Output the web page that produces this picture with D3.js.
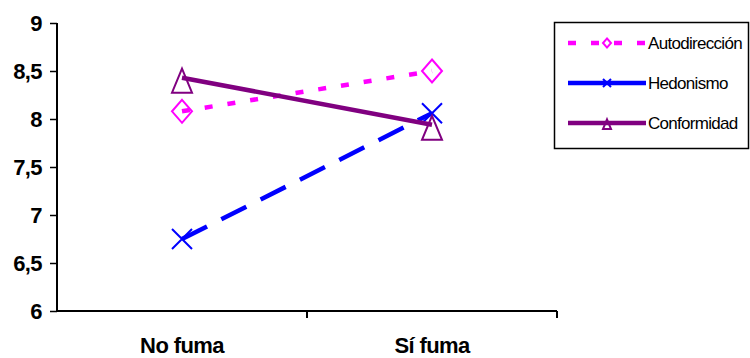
<!DOCTYPE html>
<html lang="es">
<head>
<meta charset="UTF-8">
<title>Fuma</title>
<script src="https://d3js.org/d3.v7.min.js"></script>
<style>
  body { margin: 0; background: #fff; }
  svg { display: block; font-family: "Liberation Sans", Arial, sans-serif; }
  .tick-lbl { font-weight: bold; font-size: 22px; letter-spacing: -0.6px; }
  .leg-lbl { font-size: 17px; letter-spacing: -0.7px; }
</style>
</head>
<body>
<svg width="750" height="358"></svg>
<script>
// data
var categories = ["No fuma", "Sí fuma"];
var autodireccion = [8.08, 8.5];
var hedonismo = [6.75, 8.06];
var conformidad = [8.43, 7.94];
var yTicks = [6, 6.5, 7, 7.5, 8, 8.5, 9];

var series = [
  { name: "Autodirección", values: autodireccion, color: "#ff00ff", dash: "8,15", marker: "diamond" },
  { name: "Hedonismo", values: hedonismo, color: "#0000ff", dash: "28,16", marker: "cross" },
  { name: "Conformidad", values: conformidad, color: "#800080", dash: null, marker: "triangle" }
];

var svg = d3.select("svg");

var x = d3.scaleBand().domain(categories).range([57, 557]);
var y = d3.scaleLinear().domain([6, 9]).range([311, 23]);

// y axis
var yAxis = svg.append("g").attr("transform", "translate(57,0)")
  .call(d3.axisLeft(y).tickValues(yTicks).tickSize(7).tickPadding(8)
    .tickFormat(d => String(d).replace(".", ",")));
yAxis.select(".domain").attr("stroke", "#000").attr("stroke-width", 2).attr("d", "M0,23V312");
yAxis.selectAll(".tick line").attr("stroke-width", 1.5);
yAxis.selectAll(".tick text").attr("class", "tick-lbl").attr("fill", "#000")
  .style("font-family", "Liberation Sans, Arial, sans-serif");

// x axis
var xAxis = svg.append("g").attr("transform", "translate(0,311)")
  .call(d3.axisBottom(x).tickSize(0).tickPadding(0));
xAxis.select(".domain").attr("stroke", "#000").attr("stroke-width", 2).attr("d", "M57,0H557");
xAxis.selectAll(".tick text").attr("class", "tick-lbl").attr("fill", "#000")
  .attr("y", 34).attr("dy", "0.35em")
  .style("font-family", "Liberation Sans, Arial, sans-serif");
// category separators
svg.append("g").selectAll("line")
  .data([x.range()[0] + x.bandwidth(), x.range()[1]])
  .join("line")
  .attr("x1", d => d).attr("x2", d => d)
  .attr("y1", 311).attr("y2", 318)
  .attr("stroke", "#000").attr("stroke-width", 2);

var cx = d => x(d) + x.bandwidth() / 2;

function drawMarker(g, type, color, px, py, s) {
  if (type === "diamond") {
    g.append("path")
      .attr("d", `M${px},${py - s * 1.15}L${px + s},${py}L${px},${py + s * 1.15}L${px - s},${py}Z`)
      .attr("fill", "none").attr("stroke", color).attr("stroke-width", 2);
  } else if (type === "cross") {
    g.append("path")
      .attr("d", `M${px - s},${py - s}L${px + s},${py + s}M${px + s},${py - s}L${px - s},${py + s}`)
      .attr("fill", "none").attr("stroke", color).attr("stroke-width", 2);
  } else {
    g.append("path")
      .attr("d", `M${px},${py - s * 0.9}L${px + s},${py + s * 1.5}L${px - s},${py + s * 1.5}Z`)
      .attr("fill", "none").attr("stroke", color).attr("stroke-width", 2);
  }
}

var line = d3.line().x((d, i) => cx(categories[i])).y(d => y(d));

series.forEach(s => {
  var g = svg.append("g");
  g.append("path")
    .attr("d", line(s.values))
    .attr("fill", "none")
    .attr("stroke", s.color)
    .attr("stroke-width", 4.5)
    .attr("stroke-dasharray", s.dash);
  s.values.forEach((v, i) => drawMarker(g, s.marker, s.color, cx(categories[i]), y(v), 10));
});

// legend
var leg = svg.append("g");
leg.append("rect").attr("x", 554.5).attr("y", 22.5).attr("width", 194).attr("height", 126)
  .attr("fill", "#fff").attr("stroke", "#000").attr("stroke-width", 1.5);
series.forEach((s, i) => {
  var ly = 43 + i * 40;
  leg.append("line").attr("x1", 568).attr("x2", 646).attr("y1", ly).attr("y2", ly)
    .attr("stroke", s.color).attr("stroke-width", 4.5)
    .attr("stroke-dasharray", s.name === "Autodirección" ? "8,15" : null);
  drawMarker(leg, s.marker, s.color, 607, ly, 4);
  leg.append("text").attr("class", "leg-lbl").attr("x", 648).attr("y", ly).attr("dy", "0.35em")
    .text(s.name);
});
</script>
</body>
</html>
